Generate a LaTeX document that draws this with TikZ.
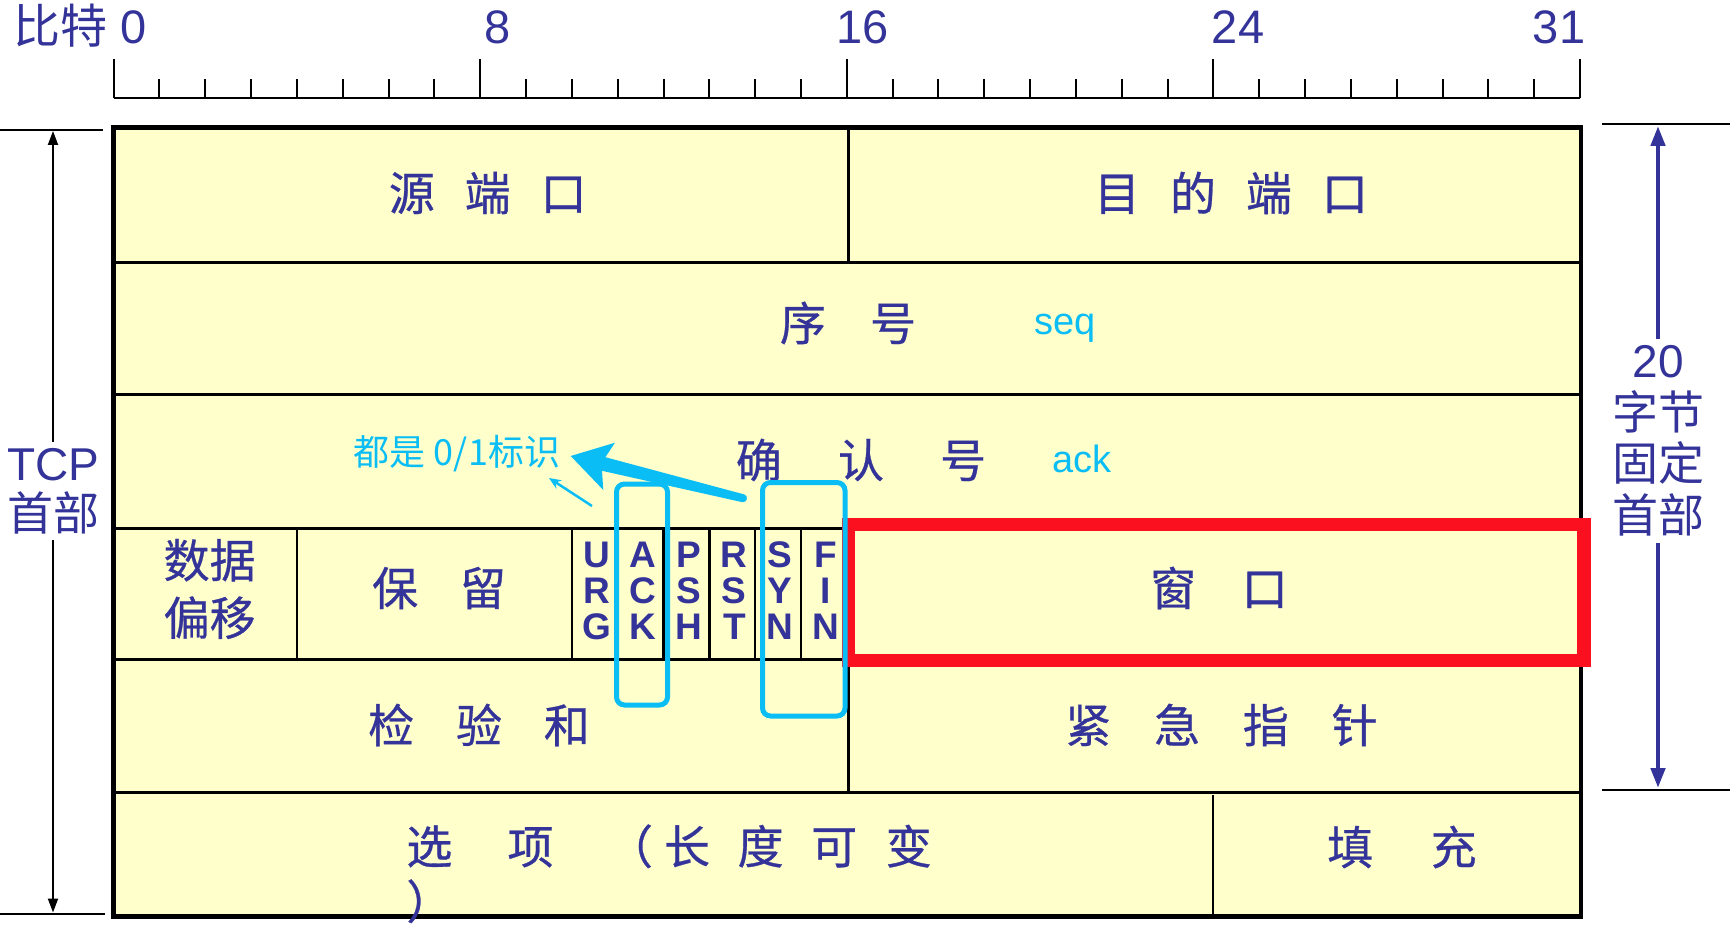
\documentclass[tikz,border=0pt]{standalone}
\usepackage{fontspec}
\setmainfont{Liberation Sans}
\newfontfamily\cjk{Noto Sans CJK SC}
\newfontfamily\cjkb{Noto Sans CJK SC}[FakeBold=0.6]
\usetikzlibrary{arrows.meta}
\definecolor{navy}{RGB}{51,51,153}
\definecolor{fillY}{RGB}{255,255,204}
\definecolor{cyanA}{RGB}{10,190,245}
\definecolor{redR}{RGB}{250,16,30}
\newcommand\gp[1]{\hspace{#1em}}
\begin{document}
\begin{tikzpicture}[x=0.5pt,y=-0.5pt,
  rul/.style={line width=1pt,black},
  inl/.style={line width=1.5pt,black},
  outl/.style={line width=2.25pt,black},
  cell/.style={font=\cjkb\fontsize{23}{28}\selectfont,text=navy,inner sep=0pt},
  flag/.style={font=\bfseries\fontsize{18.5}{18}\selectfont,text=navy,align=center,inner sep=0pt},
  ruln/.style={font=\fontsize{23.5}{28}\selectfont,text=navy,inner sep=0pt,anchor=base},
  sidel/.style={font=\fontsize{23}{25}\selectfont,text=navy,align=center,inner sep=3pt},
  cyt/.style={text=cyanA,inner sep=0pt},
  cybox/.style={draw=cyanA,line width=2.5pt,rounded corners=4pt},
  larr/.style={line width=1pt,black,-{Triangle[length=7pt,width=5pt]}},
  rarr/.style={line width=2.25pt,navy,-{Triangle[length=10pt,width=7pt]}}]
\useasboundingbox (0,0) rectangle (1730,936);
% ---- ruler ----
\draw[rul] (113.6,98) -- (1580,98);
\foreach \i in {0,...,32}{
  \pgfmathsetmacro\xx{113.6+45.825*\i}
  \draw[rul] (\xx,98) -- (\xx,79);
}
\foreach \i in {0,8,16,24,32}{
  \pgfmathsetmacro\xx{113.6+45.825*\i}
  \draw[rul] (\xx,98) -- (\xx,59);
}
\node[ruln,anchor=base east] (b0) at (147,44) {{\cjk 比特} 0};
\node[ruln] (b8) at (497.6,44) {8};
\node[ruln] (b16) at (862.8,44) {16};
\node[ruln] (b24) at (1238,44) {24};
\node[ruln] (b31) at (1559,44) {31};
% ---- table ----
\fill[fillY] (113.6,127.5) rectangle (1581,916.5);
\foreach \yy in {262.5,394,528,659.5,792.5}{\draw[inl] (113.6,\yy) -- (1581,\yy);}
\draw[inl] (848,127.5) -- (848,262.5);
\foreach \xx in {296.9,571.9,617.7,663.5,709.3,755.2,801.0,846.8}{\draw[line width=1.25pt] (\xx,528) -- (\xx,659.5);}
\draw[inl] (848,659.5) -- (848,792.5);
\draw[line width=1.25pt] (1213,795) -- (1213,916.5);
\draw[outl] (113.6,127.5) rectangle (1581,916.5);
% ---- cell texts ----
\node[cell] (src) at (487.7,193) {源\gp{0.65}端\gp{0.65}口};
\node[cell] (dst) at (1231,193) {目\gp{0.65}的\gp{0.65}端\gp{0.65}口};
\node[cell] (seqn) at (848,323) {序\gp{0.96}号};
\node[cyt,anchor=base,font=\fontsize{19}{22}\selectfont] (seqt) at (1065,335) {seq};
\node[cell] (ackn) at (861,460) {确\gp{1.22}认\gp{1.22}号};
\node[cyt,anchor=base,font=\fontsize{19}{22}\selectfont] (ackt) at (1082,472) {ack};
\node[cell,align=center,font=\cjkb\fontsize{23}{28.75}\selectfont] (off) at (209.6,589) {数据\\偏移};
\node[cell] (res) at (439,588) {保\gp{0.91}留};
\node[flag] (urg) at (596.8,591) {U\\R\\G};
\node[flag] (ack) at (642.6,591) {A\\C\\K};
\node[flag] (psh) at (688.4,591) {P\\S\\H};
\node[flag] (rst) at (734.3,591) {R\\S\\T};
\node[flag] (syn) at (780.1,591) {S\\Y\\N};
\node[flag] (fin) at (825.9,591) {F\\I\\N};
\node[cell] (win) at (1219,588) {窗\gp{0.99}口};
\node[cell] (chk) at (479,725) {检\gp{0.91}验\gp{0.91}和};
\node[cell] (urp) at (1221.5,725) {紧\gp{0.93}急\gp{0.93}指\gp{0.93}针};
\node[cell,anchor=north west,align=left,font=\cjkb\fontsize{23}{27.5}\selectfont] (opt) at (406,824) {选\gp{1.2}项\gp{1.16}（\gp{0.24}长\gp{0.6}度\gp{0.6}可\gp{0.62}变\\）};
\node[cell] (pad) at (1402,847) {填\gp{1.25}充};
% ---- highlights ----
\draw[redR,line width=6.75pt] (848.5,524.5) rectangle (1584,660.5);
\draw[cybox] (616.5,484) rectangle (667.5,705);
\draw[cybox] (762.5,482.5) rectangle (845,716);
% ---- annotation ----
\node[cyt,font=\cjk\fontsize{18}{22}\selectfont] (note) at (457,454) {都是 0/1标识};
\coordinate (bt) at (570.7,456);
\fill[cyanA] (bt) -- (615,442.7) -- (605.4,457.2) -- (744.2,494.4)
  .. controls (749,495.5) and (747,503) .. (742.4,502.2)
  -- (602.0,470.8) -- (603.3,490) -- cycle;
\coordinate (st) at (592,506);
\coordinate (sh) at (549,478);
\draw[cyanA,line width=1.25pt,-{Stealth[length=6pt,width=5pt]}] (st) -- (sh);
% ---- left label ----
\node[sidel,text=navy,font=\fontsize{23}{25}\selectfont] (tcp) at (53,491) {TCP\\{\cjk 首部}};
\coordinate (ltop) at (53,131);
\coordinate (lbot) at (53,912.5);
\draw[rul] (0,130) -- (103,130);
\draw[rul] (0,913.5) -- (105,913.5);
\draw[larr] (tcp.north) -- (ltop);
\draw[larr] (tcp.south) -- (lbot);
% ---- right label ----
\node[sidel,font=\fontsize{23}{25.75}\selectfont] (fix) at (1658,441) {20\\{\cjk 字节}\\{\cjk 固定}\\{\cjk 首部}};
\coordinate (rtop) at (1658,126);
\coordinate (rbot) at (1658,788);
\draw[rul] (1602,123.6) -- (1730,123.6);
\draw[rul] (1602,790) -- (1730,790);
\draw[rarr] (fix.north) -- (rtop);
\draw[rarr] (fix.south) -- (rbot);
\end{tikzpicture}
\end{document}
